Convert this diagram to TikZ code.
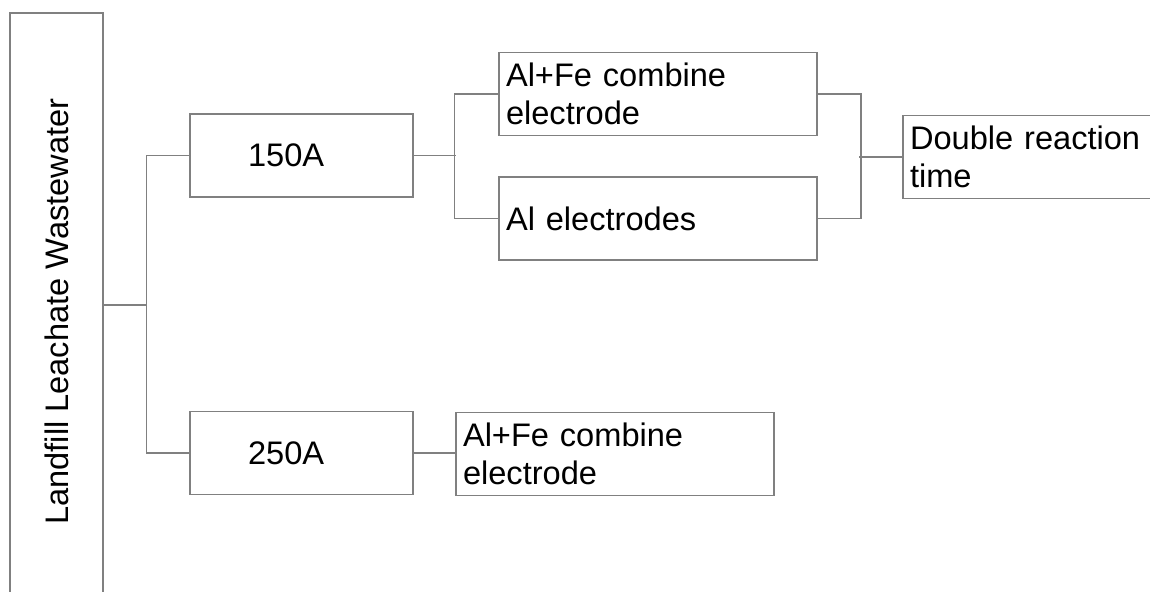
\documentclass[tikz,border=0pt]{standalone}
\usepackage{fontspec}
\setmainfont{Liberation Sans}
\begin{document}
\begin{tikzpicture}[x=0.5pt,y=-0.5pt,
  font=\fontsize{16.3}{19}\selectfont,
  link/.style={draw=gray, line width=0.75pt},
  ampbox/.style={draw=gray, line width=0.75pt, inner xsep=29pt, text width=53.5pt, align=left, minimum height=41.5pt},
  textbox/.style={draw=gray, line width=0.75pt, inner xsep=3.5pt, text width=152pt, align=left, minimum height=41.5pt}]
\useasboundingbox (0,0) rectangle (1150,592);
\node[draw=gray, line width=0.75pt, rotate=90, minimum width=298.5pt, minimum height=46.5pt] (waste) at (56.5,311.5) {Landfill Leachate Wastewater};
\node[ampbox] (a150) at (301.5,155.5) {150A};
\node[ampbox] (a250) at (301.5,453) {250A};
\node[textbox] (fe1) at (658,94) {Al+Fe combine\\electrode};
\node[textbox] (al) at (658,218.5) {Al electrodes};
\node[textbox] (fe2) at (615,454) {Al+Fe combine\\electrode};
\node[textbox] (dbl) at (1062,157) {Double reaction\\time};
\coordinate (j0) at (147,305);
\draw[link] (waste.south |- j0) -- (j0);
\draw[link] (a150.west) -- ++(-43,0) |- (a250.west);
\draw[link] (a150.east) -- ++(42,0);
\draw[link] (fe1.west) -- ++(-44,0) |- (al.west);
\draw[link] (a250.east) -- (a250.east -| fe2.west);
\draw[link] (fe1.east) -- ++(43,0) |- (al.east);
\draw[link] (dbl.west) -- ++(-43,0);
\end{tikzpicture}
\end{document}
